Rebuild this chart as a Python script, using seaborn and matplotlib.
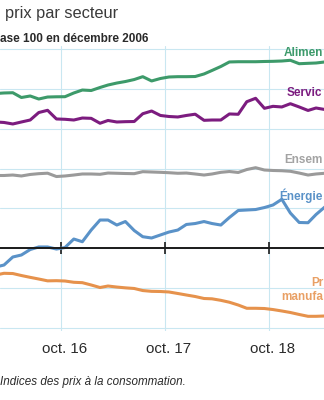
import matplotlib
matplotlib.use("Agg")
import matplotlib.pyplot as plt
import matplotlib.dates as mdates
import matplotlib.transforms as mtransforms
import pandas as pd
import seaborn as sns

# Monthly consumer price indices (base 100 in December 2006), Feb 2016 - May 2019
months = pd.date_range("2016-02-01", periods=40, freq="MS") + pd.Timedelta(days=14)

alimentation = [119.43, 119.50, 119.53, 118.93, 119.12, 118.74, 118.99, 119.02, 119.03, 119.50,
                119.87, 119.81, 120.19, 120.50, 120.75, 120.94, 121.19, 121.55, 121.01, 121.32,
                121.51, 121.55, 121.55, 121.57, 121.89, 122.33, 122.83, 123.40, 123.43, 123.43,
                123.43, 123.46, 123.48, 123.52, 123.61, 123.18, 123.23, 123.27, 123.40, 123.40]
services = [115.85, 115.79, 115.60, 115.85, 116.10, 117.04, 117.32, 116.23, 116.19, 116.10,
            116.35, 116.31, 115.69, 116.04, 115.85, 115.89, 115.91, 116.89, 117.23, 116.67,
            116.54, 116.48, 116.67, 116.83, 116.06, 116.10, 116.10, 116.86, 116.82, 118.40,
            118.83, 117.57, 117.82, 117.74, 118.15, 117.74, 117.30, 117.61, 117.42, 117.36]
ensemble = [109.12, 109.12, 109.18, 109.06, 109.25, 109.35, 109.41, 108.99, 109.06, 109.18,
            109.31, 109.31, 109.27, 109.43, 109.40, 109.37, 109.35, 109.60, 109.56, 109.52,
            109.47, 109.40, 109.43, 109.31, 109.18, 109.31, 109.52, 109.62, 109.50, 109.87,
            110.10, 109.81, 109.75, 109.72, 109.65, 109.43, 109.18, 109.31, 109.40, 109.37]
energie = [97.61, 97.86, 98.87, 99.12, 99.81, 100.13, 100.13, 99.87, 100.06, 101.13,
           100.79, 102.26, 103.52, 103.52, 102.89, 103.33, 102.20, 101.42, 101.26, 101.64,
           102.01, 102.26, 102.96, 103.08, 103.33, 103.08, 102.89, 103.84, 104.72, 104.78,
           104.84, 105.09, 105.41, 106.13, 104.40, 103.21, 103.18, 104.21, 105.16, 105.66]
produits = [96.60, 96.82, 96.79, 96.54, 96.31, 96.10, 95.87, 95.89, 95.85, 95.69,
            95.64, 95.35, 95.03, 95.22, 95.09, 94.99, 94.91, 94.65, 94.55, 94.53,
            94.47, 94.28, 94.09, 93.90, 93.65, 93.61, 93.42, 93.18, 92.83, 92.42,
            92.42, 92.39, 92.26, 92.08, 91.89, 91.64, 91.41, 91.41, 91.45, 91.45]

secteurs = ["Alimentation", "Services", "Ensemble", "Énergie", "Produits manufacturés"]
series = [alimentation, services, ensemble, energie, produits]
# Series labels as they appear at the right edge of the frame
labels_droite = ["Alimen", "Servic", "Ensem", "Énergie", "Pr\nmanufa"]
tick_dates = ["2016-10-01", "2017-10-01", "2018-10-01"]
tick_labels = ["oct. 16", "oct. 17", "oct. 18"]

colors = {
    "Alimentation": "#3d9a6a",
    "Services": "#7c1c7f",
    "Ensemble": "#9a9a9a",
    "Énergie": "#5a92c8",
    "Produits manufacturés": "#e6924c",
}
label_colors = {
    "Alimentation": "#3d9a6a",
    "Services": "#7c1c7f",
    "Ensemble": "#a3a3a3",
    "Énergie": "#5a92c8",
    "Produits manufacturés": "#e9a065",
}

df = pd.concat(
    [pd.DataFrame({"date": months, "indice": vals, "secteur": name})
     for name, vals in zip(secteurs, series)],
    ignore_index=True,
)

sns.set_theme(style="white")
plt.rcParams["font.family"] = ["Liberation Sans", "DejaVu Sans"]

W, H = 324, 400
fig = plt.figure(figsize=(W / 100, H / 100), dpi=100)


def fx(x):
    return x / W


def fy(y):
    return 1 - y / H


ax = fig.add_axes([0, 0.17325, 1, 0.7116])
sns.lineplot(data=df, x="date", y="indice", hue="secteur", hue_order=secteurs,
             palette=colors, linewidth=2.2, legend=False, ax=ax)

oct16 = pd.Timestamp("2016-10-01")
ax.set_xlim(pd.Timestamp("2016-03-01"), oct16 + pd.Timedelta(days=263 / 104 * 365))
ax.set_ylim(89.6, 125.4)
ax.set_yticks(range(90, 126, 5))
ax.xaxis.set_major_locator(mdates.MonthLocator(bymonth=10, bymonthday=1))
ax.grid(True, color="#c9e7f1", linewidth=0.8)
ax.set_axisbelow(True)
ax.set_xlabel("")
ax.set_ylabel("")
for s in ["left", "right", "top"]:
    ax.spines[s].set_visible(False)
ax.spines["bottom"].set_position(("data", 100))
ax.spines["bottom"].set_color("#1a1a1a")
ax.spines["bottom"].set_linewidth(1.4)
ax.tick_params(axis="y", left=False, labelleft=False)
ax.tick_params(axis="x", bottom=True, direction="inout", length=9, width=1.2,
               color="#1a1a1a", labelbottom=False)

# Date labels below the plot area
trans = mtransforms.blended_transform_factory(ax.transData, fig.transFigure)
shift = mtransforms.ScaledTranslation(4 / 100, 0, fig.dpi_scale_trans)
for d, lab in zip(tick_dates, tick_labels):
    ax.text(pd.Timestamp(d), fy(353), lab, transform=trans + shift, ha="center",
            va="baseline", fontsize=10.8, color="#2a2a2a")

# Titles and source note
fig.text(fx(5), fy(18), "prix par secteur", fontsize=11.8, color="#3a3a3a", va="baseline")
fig.text(fx(0.5), fy(42), "ase 100 en décembre 2006", fontsize=8.5, fontweight="bold",
         color="#2a2a2a", va="baseline")
fig.text(fx(0.5), fy(385), "Indices des prix à la consommation.", fontsize=8.4,
         style="italic", color="#2a2a2a", va="baseline")

# Series labels
label_pos = {
    "Alimentation": (284, 55.5),
    "Services": (287, 96),
    "Ensemble": (284, 163),
    "Énergie": (279, 200),
}
for name, lab in zip(secteurs, labels_droite):
    if name in label_pos:
        x, y = label_pos[name]
        fig.text(fx(x), fy(y), lab, fontsize=8.5, fontweight="bold",
                 color=label_colors[name], va="baseline")
    else:
        fig.text(fx(323), fy(277), lab, fontsize=8.5, fontweight="bold",
                 color=label_colors[name], va="top", ha="right",
                 multialignment="right", linespacing=1.2)

fig.savefig("out.png", dpi=100)
